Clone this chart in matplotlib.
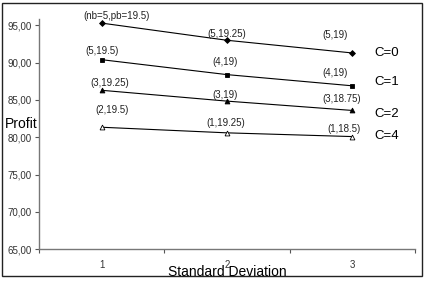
import matplotlib
matplotlib.use("Agg")
import matplotlib.pyplot as plt
from matplotlib.patches import Rectangle

plt.rcParams['font.family'] = ['Liberation Sans', 'DejaVu Sans']

categories = [1, 2, 3]
series_names = ["C=0", "C=1", "C=2", "C=4"]
profit_c0 = [95.3, 93.0, 91.3]
profit_c1 = [90.4, 88.4, 86.9]
profit_c2 = [86.3, 84.85, 83.6]
profit_c4 = [81.35, 80.6, 80.1]
labels_c0 = ["(nb=5,pb=19.5)", "(5,19.25)", "(5,19)"]
labels_c1 = ["(5,19.5)", "(4,19)", "(4,19)"]
labels_c2 = ["(3,19.25)", "(3,19)", "(3,18.75)"]
labels_c4 = ["(2,19.5)", "(1,19.25)", "(1,18.5)"]
yticks = [65, 70, 75, 80, 85, 90, 95]
ytick_labels = ["65,00", "70,00", "75,00", "80,00", "85,00", "90,00", "95,00"]

series = [profit_c0, profit_c1, profit_c2, profit_c4]
labels = [labels_c0, labels_c1, labels_c2, labels_c4]

# styles / placement (pixel offsets)
markers = [dict(marker='D', ms=3, mfc='black'),
           dict(marker='s', ms=3.5, mfc='black'),
           dict(marker='^', ms=3.5, mfc='black'),
           dict(marker='^', ms=3.5, mfc='white')]
label_offsets = [
    [(15, 7), (0, 6), (-17, 18)],
    [(0, 9), (-2, 13), (-17, 13)],
    [(8, 7.5), (-2, 6.5), (-11, 11)],
    [(10, 17), (-1, 10), (-8, 8)],
]
name_offsets = [(22, 0), (22, 4), (22, -4), (22, 1)]

W, H = 425, 283
fig = plt.figure(figsize=(W / 100, H / 100), dpi=100)
ax = fig.add_axes([39 / W, 1 - 249.3 / H, (415 - 39) / W, (249.3 - 19) / H])

for vals, labs, mk, offs, name, noff in zip(series, labels, markers, label_offsets,
                                             series_names, name_offsets):
    ax.plot(categories, vals, color='black', lw=0.8, mec='black', mew=0.6, **mk)
    for x, y, t, (dx, dy) in zip(categories, vals, labs, offs):
        ax.annotate(t, (x, y), xytext=(dx * 0.72, dy * 0.72), textcoords='offset points',
                    ha='center', va='center', fontsize=7, color='#222222')
    ax.annotate(name, (categories[-1], vals[-1]), xytext=(noff[0] * 0.72, noff[1] * 0.72),
                textcoords='offset points', ha='left', va='center', fontsize=9.5, color='black')

ax.set_xlim(0.5, 3.5)
ax.set_ylim(65, 95.85)
ax.set_yticks(yticks)
ax.set_yticklabels(ytick_labels, fontsize=7, color='#333333')
ax.set_xticks(categories)
ax.set_xticklabels([str(c) for c in categories], fontsize=7, color='#333333')
ax.set_xticks([0.5, 1.5, 2.5, 3.5], minor=True)
ax.tick_params(axis='x', which='major', length=0, pad=8)
ax.tick_params(axis='x', which='minor', length=3, color='#555555', width=0.8)
ax.tick_params(axis='y', length=3, color='#555555', width=0.8, pad=2)
for s in ['top', 'right']:
    ax.spines[s].set_visible(False)
for s in ['left', 'bottom']:
    ax.spines[s].set_color('#777777')
    ax.spines[s].set_linewidth(1.0)

fig.text(5 / W, 1 - 123.5 / H, "Profit", ha='left', va='center', fontsize=10, color='black')
fig.text(227.5 / W, 1 - 271.5 / H, "Standard Deviation", ha='center', va='center',
         fontsize=10, color='black')

fig.patches.append(Rectangle((1.5 / W, 1 - 276 / H), (421.5 - 1.5) / W, (276 - 3) / H,
                             transform=fig.transFigure, fill=False, edgecolor='#222222',
                             lw=1.0))

fig.savefig("out.png", dpi=100)
